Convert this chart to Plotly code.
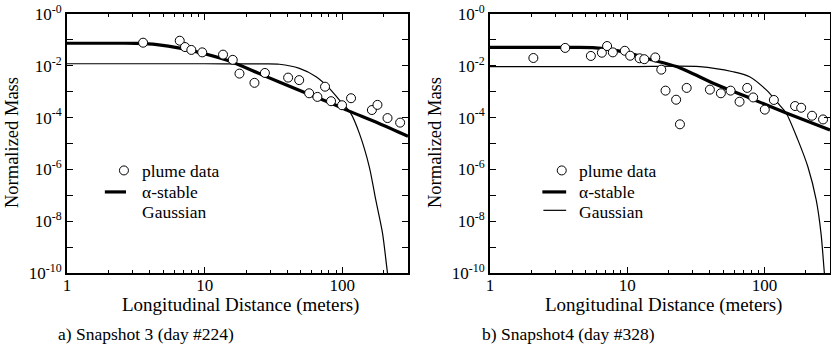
import math
import plotly.graph_objects as go

# ---------------- data: panel a (Snapshot 3) ----------------
a_data_x = [3.57, 6.59, 7.2, 8.0, 9.6, 13.6, 16.0, 17.9, 23.0, 27.4, 40.4, 48.6, 57.4,
            65.9, 74.9, 82.8, 99.5, 115.7, 164, 180, 213, 263]
a_data_y = [0.078, 0.093, 0.053, 0.041, 0.033, 0.027, 0.017, 0.005, 0.0022, 0.0053, 0.0035,
            0.0028, 0.00087, 0.00063, 0.00156, 0.00043, 0.00030, 0.00056, 0.000196, 0.00031,
            0.0000957, 0.000064]
a_stable_x = [1, 2.2, 3.2, 4.5, 6.6, 14.4, 26.4, 46.2, 80.5, 112, 185, 300]
a_stable_y = [0.0741, 0.0741, 0.0735, 0.066, 0.0479, 0.0166, 0.00437, 0.00126, 0.00038,
              0.000178, 0.000059, 0.000019]
a_gauss_x = [1, 10, 25, 34.9, 48.8, 64.5, 80.5, 95, 115, 133, 157, 175, 196, 213, 225]
a_gauss_y = [0.0120, 0.0120, 0.0118, 0.01148, 0.00794, 0.0038, 0.00135, 0.00048, 0.000148,
             2.45e-5, 1.26e-6, 6.6e-8, 3.4e-9, 1e-10, 1.6e-11]

# ---------------- data: panel b (Snapshot 4) ----------------
b_data_x = [2.07, 3.53, 5.43, 6.53, 7.13, 7.85, 9.6, 10.5, 12.3, 13.3, 16.0, 17.7, 19.0, 22.7,
            24.2, 27.1, 40.0, 48.1, 56.6, 65.8, 74.8, 82.7, 100.5, 117, 167, 185, 222, 267]
b_data_y = [0.020, 0.049, 0.024, 0.032, 0.058, 0.033, 0.038, 0.0245, 0.0195, 0.018, 0.021,
            0.0071, 0.0011, 0.00049, 0.000055, 0.0014, 0.0012, 0.00087, 0.0011, 0.00041,
            0.0014, 0.00060, 0.000203, 0.00048, 0.00028, 0.00024, 0.000118, 0.000085]
b_stable_x = [1, 3.5, 5.6, 7.5, 10.4, 14.6, 22.8, 44.5, 77.8, 144, 300]
b_stable_y = [0.0513, 0.0513, 0.0505, 0.043, 0.0302, 0.0178, 0.00933, 0.0019, 0.000575,
              0.000151, 0.000033]
b_gauss_x = [1, 10, 33.7, 58.9, 77.8, 103, 128, 144, 175, 207, 238, 258, 273, 285]
b_gauss_y = [0.00933, 0.00933, 0.00933, 0.00589, 0.0038, 0.00117, 0.000316, 0.000148, 1.38e-5,
             1.26e-6, 6.6e-8, 3.4e-9, 1e-10, 1e-11]

x_tick_vals = [1, 10, 100]
x_tick_text = ["1", "10", "100"]
x_minor_vals = [2, 3, 4, 5, 6, 7, 8, 9, 20, 30, 40, 50, 60, 70, 80, 90, 200, 300]
y_tick_vals = [1e-10, 1e-9, 1e-8, 1e-7, 1e-6, 1e-5, 1e-4, 1e-3, 1e-2, 1e-1, 1e0]
y_tick_text = ["10<sup>-10</sup>", "", "10<sup>-8</sup>", "", "10<sup>-6</sup>", "",
               "10<sup>-4</sup>", "", "10<sup>-2</sup>", "", "10<sup>-0</sup>"]

x_title = "Longitudinal Distance (meters)"
y_title = "Normalized Mass"
captions = ["a) Snapshot 3 (day #224)", "b) Snapshot4 (day #328)"]
legend_labels = ["plume data", "α-stable", "Gaussian"]

W, H = 831, 358
FONT = "Liberation Serif, Times New Roman, Times, DejaVu Serif, serif"

fig = go.Figure()


def add_panel(xa, ya, dx, dy, sx, sy, gx, gy):
    fig.add_trace(go.Scatter(x=gx, y=gy, mode="lines", xaxis=xa, yaxis=ya,
                             line=dict(color="black", width=1.2, shape="spline",
                                       smoothing=0.8)))
    fig.add_trace(go.Scatter(x=sx, y=sy, mode="lines", xaxis=xa, yaxis=ya,
                             line=dict(color="black", width=3.2, shape="spline",
                                       smoothing=0.8)))
    fig.add_trace(go.Scatter(x=dx, y=dy, mode="markers", xaxis=xa, yaxis=ya,
                             marker=dict(symbol="circle", size=9, color="white",
                                         line=dict(color="black", width=1))))


add_panel("x", "y", a_data_x, a_data_y, a_stable_x, a_stable_y, a_gauss_x, a_gauss_y)
add_panel("x2", "y2", b_data_x, b_data_y, b_stable_x, b_stable_y, b_gauss_x, b_gauss_y)

ydom = [1 - 273 / H, 1 - 14 / H]
xdoms = [[67 / W, 408 / W], [490 / W, 830 / W]]


def xaxis_cfg(dom, anchor):
    return dict(type="log", range=[0, math.log10(300)], domain=dom, anchor=anchor,
                showline=True, linecolor="black", linewidth=2, mirror="allticks",
                ticks="inside", ticklen=6, tickwidth=1, tickcolor="black",
                tickmode="array", tickvals=x_tick_vals, ticktext=x_tick_text,
                ticklabelstandoff=-4,
                minor=dict(ticks="inside", ticklen=3, tickwidth=1, tickcolor="black",
                           tickvals=x_minor_vals),
                showgrid=False, zeroline=False, automargin=False,
                tickfont=dict(family=FONT, size=17, color="black"))


def yaxis_cfg(anchor):
    return dict(type="log", range=[-10, 0], domain=ydom, anchor=anchor,
                showline=True, linecolor="black", linewidth=2, mirror="allticks",
                ticks="inside", ticklen=6, tickwidth=1, tickcolor="black",
                tickmode="array", tickvals=y_tick_vals, ticktext=y_tick_text,
                showgrid=False, zeroline=False, automargin=False,
                tickfont=dict(family=FONT, size=17, color="black"))


annotations = []
shapes = []
tfont = dict(family=FONT, size=17.5, color="black")
xtfont = dict(family=FONT, size=19, color="black")
ytfont = dict(family=FONT, size=18.5, color="black")

# axis titles and captions
for i, (xd, cap) in enumerate(zip(xdoms, captions)):
    annotations.append(dict(text=x_title, xref="paper", yref="paper",
                            x=(xd[0] + xd[1]) / 2 + 3 / W, y=1 - 305 / H, xanchor="center",
                            yanchor="middle", showarrow=False, font=xtfont))
    annotations.append(dict(text=y_title, xref="paper", yref="paper",
                            x=[12 / W, 435 / W][i], y=1 - 143 / H, xanchor="center",
                            yanchor="middle", textangle=-90, showarrow=False, font=ytfont))
    annotations.append(dict(text=cap, xref="paper", yref="paper",
                            x=[56 / W, 480 / W][i], y=1 - 334 / H, xanchor="left",
                            yanchor="middle", showarrow=False, font=tfont))

# legends (drawn manually)
leg = [
    dict(xr="x domain", yr="y domain", cx=0.167, tx=0.214,
         line_a=(0.111, 0.173), line_g=None),
    dict(xr="x2 domain", yr="y2 domain", cx=0.211, tx=0.256,
         line_a=(0.154, 0.224), line_g=(0.157, 0.224)),
]
rows_y = [0.392, 0.313, 0.236]
for L in leg:
    for lab, yy in zip(legend_labels, rows_y):
        annotations.append(dict(text=lab, xref=L["xr"], yref=L["yr"], x=L["tx"], y=yy,
                                xanchor="left", yanchor="middle", showarrow=False,
                                font=tfont))
    shapes.append(dict(type="circle", xref=L["xr"], yref=L["yr"], xsizemode="pixel",
                       ysizemode="pixel", xanchor=L["cx"], yanchor=rows_y[0] + 0.004,
                       x0=-4.5, x1=4.5, y0=-4.5, y1=4.5,
                       line=dict(color="black", width=1), fillcolor="white"))
    shapes.append(dict(type="line", xref=L["xr"], yref=L["yr"], x0=L["line_a"][0],
                       x1=L["line_a"][1], y0=rows_y[1], y1=rows_y[1],
                       line=dict(color="black", width=3.2)))
    if L["line_g"]:
        shapes.append(dict(type="line", xref=L["xr"], yref=L["yr"], x0=L["line_g"][0],
                           x1=L["line_g"][1], y0=rows_y[2] + 0.006, y1=rows_y[2] + 0.006,
                           line=dict(color="black", width=1.2)))

fig.update_layout(
    width=W, height=H, margin=dict(l=0, r=0, t=0, b=0),
    paper_bgcolor="white", plot_bgcolor="white", showlegend=False,
    xaxis=xaxis_cfg(xdoms[0], "y"), yaxis=yaxis_cfg("x"),
    xaxis2=xaxis_cfg(xdoms[1], "y2"), yaxis2=yaxis_cfg("x2"),
    annotations=annotations, shapes=shapes,
    font=dict(family=FONT, color="black"),
)

fig.write_html("out.html")
